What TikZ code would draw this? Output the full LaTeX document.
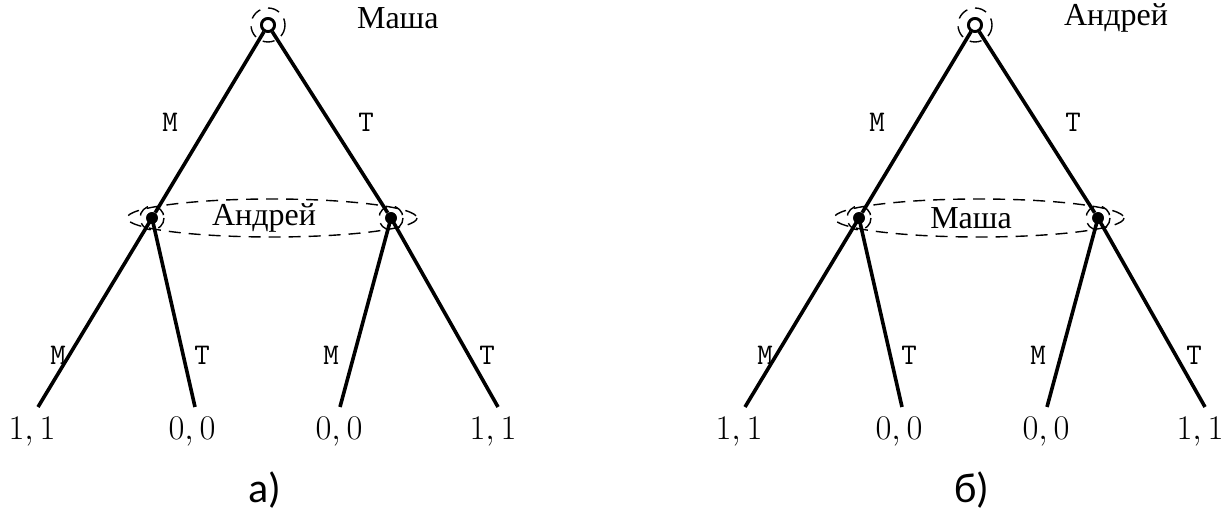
\documentclass[tikz,border=0pt]{standalone}
\usepackage{fontspec}
\newfontfamily\cyrfont{Liberation Serif}
\newfontfamily\capfont{Carlito}
\tikzset{
  edge/.style={line width=1.8pt},
  dsh/.style={dash pattern=on 6pt off 4pt, line width=0.7pt},
  rootnode/.style={circle,draw,line width=1.4pt,fill=white,inner sep=0pt,minimum size=6.5pt},
  decnode/.style={circle,fill=black,inner sep=0pt,minimum size=5.8pt},
  lab/.style={font=\fontsize{15}{17}\selectfont\ttfamily},
  pay/.style={font=\fontsize{16.5}{19}\selectfont},
  nm/.style={font=\fontsize{16}{19}\selectfont\cyrfont},
  captxt/.style={font=\fontsize{21}{24}\selectfont\capfont}
}
\newcommand{\gametree}[5]{% #1 shift, #2 prefix, #3 top name, #4 info name, #5 caption
\begin{scope}[xshift=#1]
  \node[rootnode] (#2r) at (268,25) {};
  \node[decnode] (#2a) at (152,218) {};
  \node[decnode] (#2b) at (391,218) {};
  \coordinate (#2l1) at (38,407);
  \coordinate (#2l2) at (195,407);
  \coordinate (#2l3) at (340,407);
  \coordinate (#2l4) at (498,407);
  \coordinate (#2c) at (272,218);
  \draw[dsh] (#2r) circle[radius=17];
  \draw[dsh] (#2c) ellipse[x radius=145, y radius=19];
  \draw[dsh] (#2a) circle[radius=12];
  \draw[dsh] (#2b) circle[radius=12];
  \draw[edge] (#2r) -- (#2a);
  \draw[edge] (#2r) -- (#2b);
  \draw[edge] (#2a.center) -- (#2l1);
  \draw[edge] (#2a.center) -- (#2l2);
  \draw[edge] (#2b.center) -- (#2l3);
  \draw[edge] (#2b.center) -- (#2l4);
  \node[rootnode] at (#2r) {};
  \node[decnode] at (#2a) {};
  \node[decnode] at (#2b) {};
  \node[lab] (#2m1) at (170,122) {M};
  \node[lab] (#2t1) at (366,122) {T};
  \node[lab] (#2m2) at (58,355) {M};
  \node[lab] (#2t2) at (202,355) {T};
  \node[lab] (#2m3) at (331,355) {M};
  \node[lab] (#2t3) at (487,355) {T};
  \node[pay] (#2p1) at (32,432) {$1,1$};
  \node[pay] (#2p2) at (192,432) {$0,0$};
  \node[pay] (#2p3) at (339,432) {$0,0$};
  \node[pay] (#2p4) at (493,432) {$1,1$};
  \node[nm,anchor=west] (#2n1) at (350,18) {#3};
  \node[nm,fill=white,inner sep=1pt] (#2n2) at (264,218) {#4};
  \node[captxt] (#2cap) at (265,490) {#5};
\end{scope}}
\begin{document}
\begin{tikzpicture}[x=0.5pt,y=-0.5pt]
\useasboundingbox (0,0) rectangle (1231,517);
\gametree{0pt}{A}{Маша}{Андрей}{а)}
\gametree{353.5pt}{B}{Андрей}{Маша}{б)}
\end{tikzpicture}
\end{document}
